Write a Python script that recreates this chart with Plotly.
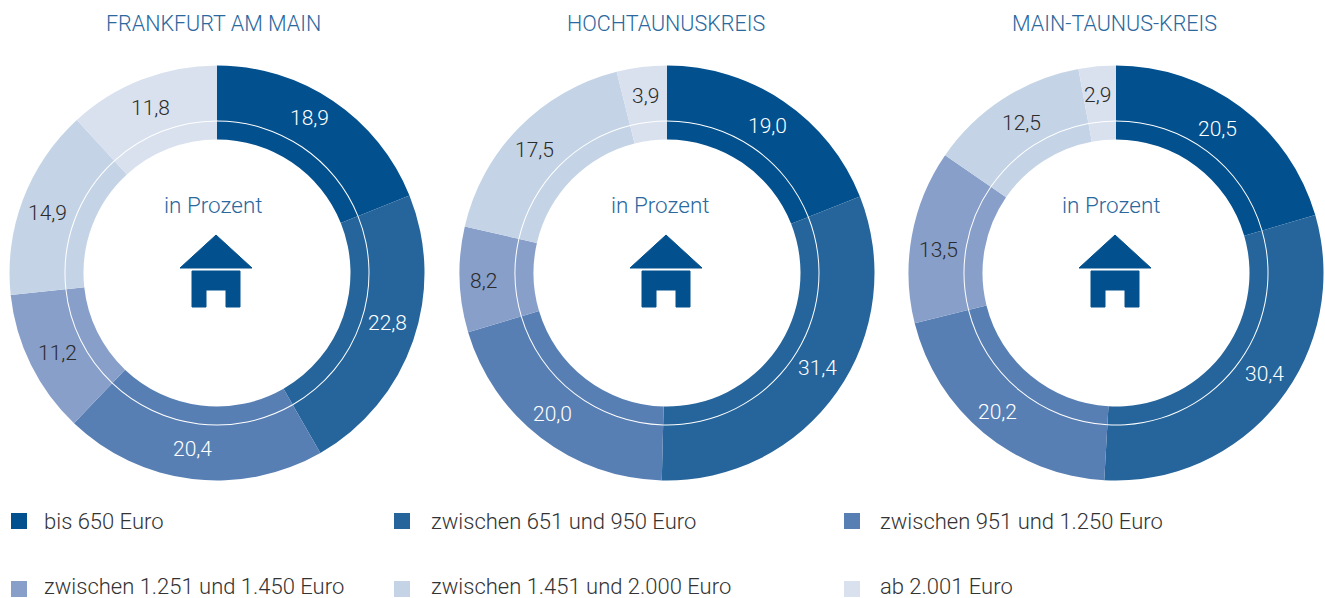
import math
import plotly.graph_objects as go

W, H = 1325, 598
categories = ["bis 650 Euro", "zwischen 651 und 950 Euro", "zwischen 951 und 1.250 Euro",
              "zwischen 1.251 und 1.450 Euro", "zwischen 1.451 und 2.000 Euro", "ab 2.001 Euro"]
colors = ["#02508E", "#25659B", "#587FB4", "#889FCA", "#C4D4E6", "#D9E1EF"]
text_colors = ["#FFFFFF", "#FFFFFF", "#FFFFFF", "#2B2B2B", "#2B2B2B", "#2B2B2B"]
titles = ["FRANKFURT AM MAIN", "HOCHTAUNUSKREIS", "MAIN-TAUNUS-KREIS"]
frankfurt = [18.9, 22.8, 20.4, 11.2, 14.9, 11.8]
hochtaunus = [19.0, 31.4, 20.0, 8.2, 17.5, 3.9]
main_taunus = [20.5, 30.4, 20.2, 13.5, 12.5, 2.9]
series = [frankfurt, hochtaunus, main_taunus]

centers = [217, 667, 1116]
title_x = [214, 666, 1114]
sub_x = [213, 660, 1111]
CY, R_OUT, R_GAP, R_MID, R_IN = 273, 207.5, 152.5, 151.5, 133.5
R_LABEL = 178
# hand placement of the value labels relative to the slice's mid-angle position
nudges = [
    [(-7, -7), (2, -8), (-3, -1), (0, 1), (-3, 3), (-2, 1)],
    [(0, 0), (5, -7), (-6, 0), (-6, 2), (-5, 2), (0, 0)],
    [(-5, -2), (9, -10), (-5, 2), (-2, 9), (2, -1), (-2, -1)],
]
FONT = "Roboto Light, Roboto, sans-serif"
BLUE = "#2A689E"

def px(x): return x / W
def py(y): return 1 - y / H
def dom(cx, r): return dict(x=[px(cx - r), px(cx + r)], y=[py(CY + r), py(CY - r)])

fig = go.Figure()
shapes, annos = [], []
for cx, vals, t, tx, sx, nud in zip(centers, series, titles, title_x, sub_x, nudges):
    fig.add_trace(go.Pie(labels=categories, values=vals, textinfo="none",
                         hole=R_GAP / R_OUT, sort=False, direction="clockwise", rotation=0,
                         marker=dict(colors=colors, line=dict(width=0)),
                         domain=dom(cx, R_OUT), showlegend=False))
    fig.add_trace(go.Pie(labels=categories, values=vals, textinfo="none",
                         hole=R_IN / R_MID, sort=False, direction="clockwise", rotation=0,
                         marker=dict(colors=colors, line=dict(width=0)),
                         domain=dom(cx, R_MID), showlegend=False))
    total, cum = sum(vals), 0
    for v, tc, (dx, dy) in zip(vals, text_colors, nud):
        ang = 2 * math.pi * (cum + v / 2) / total
        cum += v
        annos.append(dict(x=px(cx + R_LABEL * math.sin(ang)), y=py(CY - R_LABEL * math.cos(ang)),
                          xshift=dx, yshift=-dy, text=f"{v:.1f}".replace(".", ","),
                          font=dict(family=FONT, size=21, color=tc)))
    annos.append(dict(x=px(tx), y=py(24), text=t, font=dict(family=FONT, size=21.5, color=BLUE)))
    annos.append(dict(x=px(sx), y=py(205), text="in Prozent", font=dict(family=FONT, size=22.5, color=BLUE)))
    c = cx - 1
    pts = [(c, 235), (c + 36, 268), (c - 36, 268)]
    roof = "M" + "L".join(f"{px(x)},{py(y)}" for x, y in pts) + "Z"
    body_pts = [(c - 24, 271), (c + 24, 271), (c + 24, 307), (c + 10, 307), (c + 10, 290),
                (c - 10, 290), (c - 10, 307), (c - 24, 307)]
    body = "M" + "L".join(f"{px(x)},{py(y)}" for x, y in body_pts) + "Z"
    for p in (roof, body):
        shapes.append(dict(type="path", path=p, xref="paper", yref="paper",
                           fillcolor="#02508E", line=dict(color="#02508E", width=1)))

leg_sq_x = [11, 394, 844]
leg_tx_x = [43, 430, 879]
leg_y = [521, 586]
leg_sq_y = [521, 589]
for i, (cat, col) in enumerate(zip(categories, colors)):
    c, r = i % 3, i // 3
    x0, y = leg_sq_x[c], leg_sq_y[r]
    shapes.append(dict(type="rect", xref="paper", yref="paper", x0=px(x0), x1=px(x0 + 16),
                       y0=py(y + 8), y1=py(y - 8), fillcolor=col, line=dict(width=0)))
    annos.append(dict(x=px(leg_tx_x[c]), y=py(leg_y[r]), text=cat, xanchor="left",
                      font=dict(family=FONT, size=22, color="#333333"),
                      height=22, borderpad=0))

for a in annos:
    a.update(xref="paper", yref="paper", showarrow=False, yanchor="middle")
    a.setdefault("xanchor", "center")

fig.update_layout(width=W, height=H, margin=dict(l=0, r=0, t=0, b=0),
                  paper_bgcolor="white", plot_bgcolor="white",
                  shapes=shapes, annotations=annos, showlegend=False)
fig.write_html("out.html", config=dict(displayModeBar=False),
               post_script="document.body.style.margin='0';document.body.style.overflow='hidden';")
